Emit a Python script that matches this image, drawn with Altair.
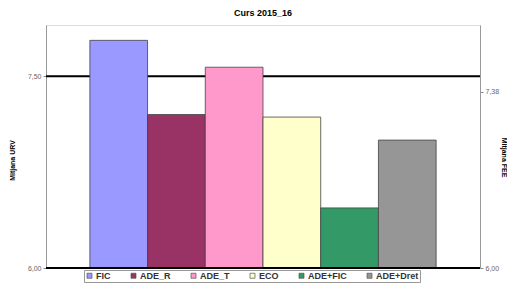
import altair as alt
import pandas as pd

categories = ["FIC", "ADE_R", "ADE_T", "ECO", "ADE+FIC", "ADE+Dret"]
values = [7.78, 7.20, 7.57, 7.18, 6.47, 7.00]
colors = ["#9999FF", "#993366", "#FF99CC", "#FFFFCC", "#339966", "#969696"]
left_ticks = [6.0, 7.5]
right_ticks = [6.0, 7.38]
reference = [7.5]
baseline = [6.0]

FONT = "Liberation Sans"
dom = [6.0, 7.9]

df = pd.DataFrame({"cat": categories, "val": values})
ref_df = pd.DataFrame({"v": reference})
base_df = pd.DataFrame({"v": baseline})

xenc = alt.X("cat:N", sort=categories, axis=None,
             scale=alt.Scale(paddingInner=0, paddingOuter=0.76))

lbl = "replace(format(datum.value, '.2f'), '.', ',')"

refline = alt.Chart(ref_df).mark_rule(color="black", strokeWidth=2).encode(
    y=alt.Y("v:Q", scale=alt.Scale(domain=dom, nice=False, zero=False),
            axis=alt.Axis(orient="right", values=right_ticks, labelExpr=lbl,
                          title="Mitjana FEE", grid=False,
                          titleAngle=90, titleX=23, titleY=132,
                          titleAlign="center", titleBaseline="middle",
                          titleFontSize=7, titleFontWeight="bold",
                          titleColor="#000000", titleFont=FONT,
                          labelFontSize=7, labelColor="#666666", labelFont=FONT,
                          tickSize=3, tickColor="#888888", domainColor="#999999",
                          labelPadding=2))
)

bars = alt.Chart(df).mark_bar(stroke="#444444", strokeWidth=1, strokeOpacity=0.8).encode(
    x=xenc,
    y=alt.Y("val:Q", scale=alt.Scale(domain=dom, nice=False, zero=False),
            axis=alt.Axis(orient="left", values=left_ticks, labelExpr=lbl,
                          title="Mitjana URV", grid=False,
                          titleAngle=270, titleX=-34, titleY=135,
                          titleAlign="center", titleBaseline="middle",
                          titleFontSize=7, titleFontWeight="bold",
                          titleColor="#000000", titleFont=FONT,
                          labelFontSize=7, labelColor="#666666", labelFont=FONT,
                          tickSize=3, tickColor="#888888", domainColor="#999999",
                          labelPadding=2)),
    y2=alt.Y2(datum=6.0),
    color=alt.Color("cat:N", sort=categories,
                    scale=alt.Scale(domain=categories, range=colors),
                    legend=alt.Legend(title=None, orient="none", legendX=38, legendY=245,
                                      direction="horizontal", symbolType="square",
                                      symbolSize=25, symbolStrokeColor="#555555",
                                      symbolStrokeWidth=0.7,
                                      labelFontSize=9, labelFontWeight="bold",
                                      labelFont=FONT, labelColor="#333333",
                                      columnPadding=18, labelOffset=2,
                                      strokeColor="#999999", padding=1,
                                      fillColor="white")),
)

baseline_rule = alt.Chart(base_df).mark_rule(color="black", strokeWidth=2).encode(
    y=alt.Y("v:Q", scale=alt.Scale(domain=dom, nice=False, zero=False), axis=None)
)

chart = alt.layer(refline, bars, baseline_rule).resolve_scale(y="independent").properties(
    width=434, height=243,
    autosize=alt.AutoSizeParams(type="none"),
    padding={"left": 38, "top": 17, "right": 27, "bottom": 15},
    title=alt.TitleParams("Curs 2015_16", fontSize=9, fontWeight="bold", font=FONT,
                          anchor="middle", offset=7, color="#000000"),
).configure_view(stroke=None).configure(background="white")

chart.save("out.html", embed_options={"renderer": "svg", "actions": False})
